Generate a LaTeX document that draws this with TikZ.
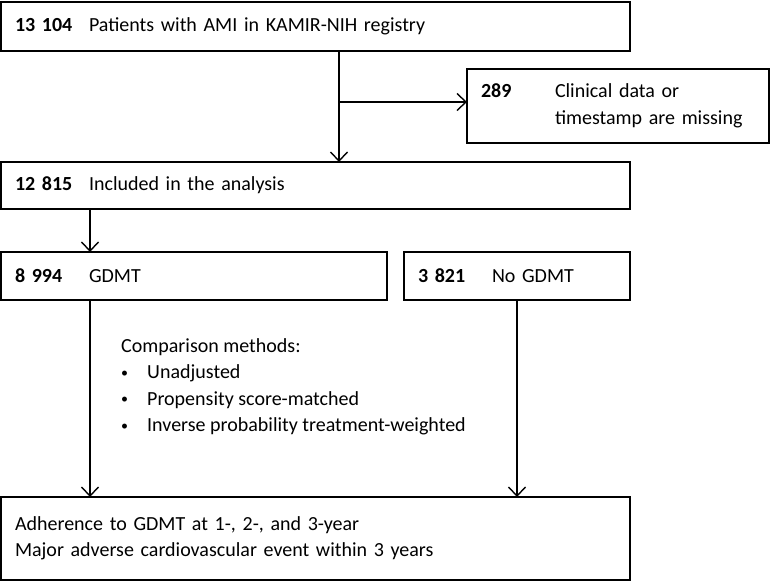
\documentclass[tikz,border=0pt]{standalone}
\usepackage{fontspec}
\setmainfont{Carlito}
\usetikzlibrary{arrows.meta}
\tikzset{
  flowbox/.style={draw, rectangle, line width=1.4pt, inner xsep=14pt, inner ysep=0pt, outer sep=0pt, align=left, anchor=north west},
  flowarrow/.style={line width=1.4pt, -{Straight Barb[length=9pt,width=17pt,line width=1.4pt]}}
}
\newcommand{\cnt}[1]{\makebox[74pt][l]{\textbf{#1}}}
\newcommand{\bul}{\makebox[26pt][l]{\raisebox{1.8pt}{\fontsize{14}{14}\selectfont\textbullet}}}
\begin{document}
\begin{tikzpicture}[x=1pt,y=-1pt,font=\fontsize{20}{26.5}\selectfont]
    \useasboundingbox (0,0) rectangle (771,581);
    \node [flowbox, minimum height=49pt, text width=601pt] (reg) at (1,2) {\cnt{13 104}Patients with AMI in KAMIR-NIH registry};
    \node [flowbox, minimum height=74pt, text width=274pt] (miss) at (467,69) {\cnt{289}Clinical data or\\\hspace*{74pt}timestamp are missing};
    \node [flowbox, minimum height=47pt, text width=601pt] (incl) at (1,162) {\cnt{12 815}Included in the analysis};
    \node [flowbox, minimum height=48pt, text width=358pt] (gdmt) at (1,252) {\cnt{8 994}GDMT};
    \node [flowbox, minimum height=48pt, text width=198pt] (nogdmt) at (404,252) {\cnt{3 821}No GDMT};
    \node [flowbox, minimum height=83pt, text width=601pt] (outc) at (1,497) {Adherence to GDMT at 1-, 2-, and 3-year\\Major adverse cardiovascular event within 3 years};
    \node [anchor=west, inner sep=0pt, align=left] (meth) at (121,387) {Comparison methods:\\\bul Unadjusted\\\bul Propensity score-matched\\\bul Inverse probability treatment-weighted};
    \coordinate (br) at (339,102);
    \coordinate (lft) at (90,0);
    \draw [flowarrow] (reg.south -| br) -- (incl.north -| br);
    \draw [flowarrow] (br) -- (br -| miss.west);
    \draw [flowarrow] (incl.south -| lft) -- (gdmt.north -| lft);
    \draw [flowarrow] (gdmt.south -| lft) -- (outc.north -| lft);
    \draw [flowarrow] (nogdmt.south) -- (nogdmt.south |- outc.north);
\end{tikzpicture}
\end{document}
